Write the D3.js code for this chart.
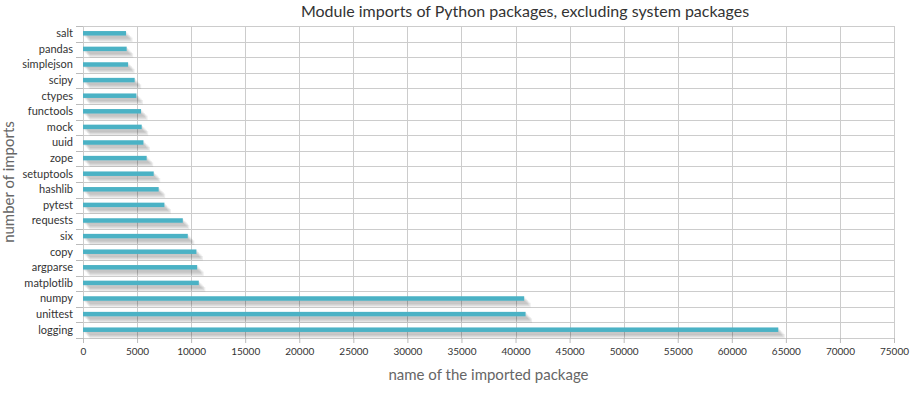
<!DOCTYPE html>
<html>
<head>
<meta charset="utf-8">
<script src="https://cdn.jsdelivr.net/npm/d3@7"></script>
<style>
  html, body { margin: 0; padding: 0; background: #fff; }
  svg text { font-family: Lato, "Open Sans", sans-serif; }
</style>
</head>
<body>
<div id="chart"></div>
<script>
// packages, top to bottom as they appear on the chart
const packages = ["salt", "pandas", "simplejson", "scipy", "ctypes", "functools", "mock", "uuid",
  "zope", "setuptools", "hashlib", "pytest", "requests", "six", "copy", "argparse",
  "matplotlib", "numpy", "unittest", "logging"];

// number of imports
const imports = [3980, 4040, 4170, 4780, 4940, 5370, 5430, 5590,
  5890, 6540, 7000, 7530, 9230, 9690, 10490, 10560,
  10710, 40800, 40930, 64300];

const xTicks = d3.range(0, 75001, 5000);

const titleText = "Module imports of Python packages, excluding system packages";
const xLabel = "name of the imported package";
const yLabel = "number of imports";

// 1) Canvas
const W = 913, H = 394;
const plot = { left: 83, right: 894, top: 26, bottom: 338 };

const svg = d3.select("#chart").append("svg")
  .attr("width", W).attr("height", H);

const data = packages.map((p, i) => ({ name: p, value: imports[i] }));

// 2) Scales
const x = d3.scaleLinear().domain([0, 75000]).range([plot.left, plot.right]);
const y = d3.scaleBand().domain(packages).range([plot.top, plot.bottom]);

// 3) Grid
const grid = svg.append("g").attr("stroke", "#cccccc").attr("stroke-width", 1);
grid.selectAll("line.v").data(xTicks).enter().append("line")
  .attr("x1", d => Math.round(x(d)) + 0.5).attr("x2", d => Math.round(x(d)) + 0.5)
  .attr("y1", plot.top).attr("y2", plot.bottom);
const bounds = packages.map(p => y(p)).concat([plot.bottom]);
grid.selectAll("line.h").data(bounds).enter().append("line")
  .attr("x1", plot.left).attr("x2", plot.right)
  .attr("y1", d => Math.round(d) + 0.5).attr("y2", d => Math.round(d) + 0.5);

// 4) Axes
const xAxis = svg.append("g")
  .attr("transform", `translate(0,${plot.bottom})`)
  .call(d3.axisBottom(x).tickValues(xTicks).tickSize(5).tickPadding(5).tickFormat(d3.format("d")));
xAxis.select(".domain").remove();
xAxis.selectAll("line").attr("stroke", "#bbbbbb");
xAxis.selectAll("text").attr("fill", "#333").style("font-size", "10px");

const yAxis = svg.append("g").attr("transform", `translate(${plot.left},0)`);
yAxis.selectAll("line").data(bounds).enter().append("line")
  .attr("x1", -7).attr("x2", 0)
  .attr("y1", d => Math.round(d) + 0.5).attr("y2", d => Math.round(d) + 0.5)
  .attr("stroke", "#bbbbbb");
yAxis.selectAll("text").data(packages).enter().append("text")
  .attr("x", -10)
  .attr("y", d => y(d) + y.bandwidth() / 2 - 0.5)
  .attr("dy", "0.35em")
  .attr("text-anchor", "end")
  .attr("fill", "#333")
  .style("font-size", "11px")
  .text(d => d);

// 5) Bars with stacked shadow
const barH = 4.5;
const barY = d => y(d.name) + y.bandwidth() / 2 - barH / 2 - 0.5;
const shadow = svg.append("g");
d3.range(1, 6).forEach(j => {
  shadow.selectAll(null).data(data).enter().append("rect")
    .attr("x", x(0) + j * 1.3)
    .attr("y", d => barY(d) + j * 1.3)
    .attr("width", d => x(d.value) - x(0))
    .attr("height", barH)
    .attr("fill", "#000")
    .attr("fill-opacity", 0.07);
});
svg.append("g").selectAll("rect").data(data).enter().append("rect")
  .attr("x", x(0))
  .attr("y", barY)
  .attr("width", d => x(d.value) - x(0))
  .attr("height", barH)
  .attr("fill", "#4bb2c5");

// 6) Labels
svg.append("text")
  .attr("x", 525).attr("y", 17)
  .attr("text-anchor", "middle")
  .attr("fill", "#333")
  .style("font-size", "16px")
  .text(titleText);

svg.append("text")
  .attr("x", (plot.left + plot.right) / 2).attr("y", 380)
  .attr("text-anchor", "middle")
  .attr("fill", "#666")
  .style("font-size", "15px")
  .text(xLabel);

svg.append("text")
  .attr("transform", `translate(14,${(plot.top + plot.bottom) / 2}) rotate(-90)`)
  .attr("text-anchor", "middle")
  .attr("fill", "#666")
  .style("font-size", "15px")
  .text(yLabel);
</script>
</body>
</html>
